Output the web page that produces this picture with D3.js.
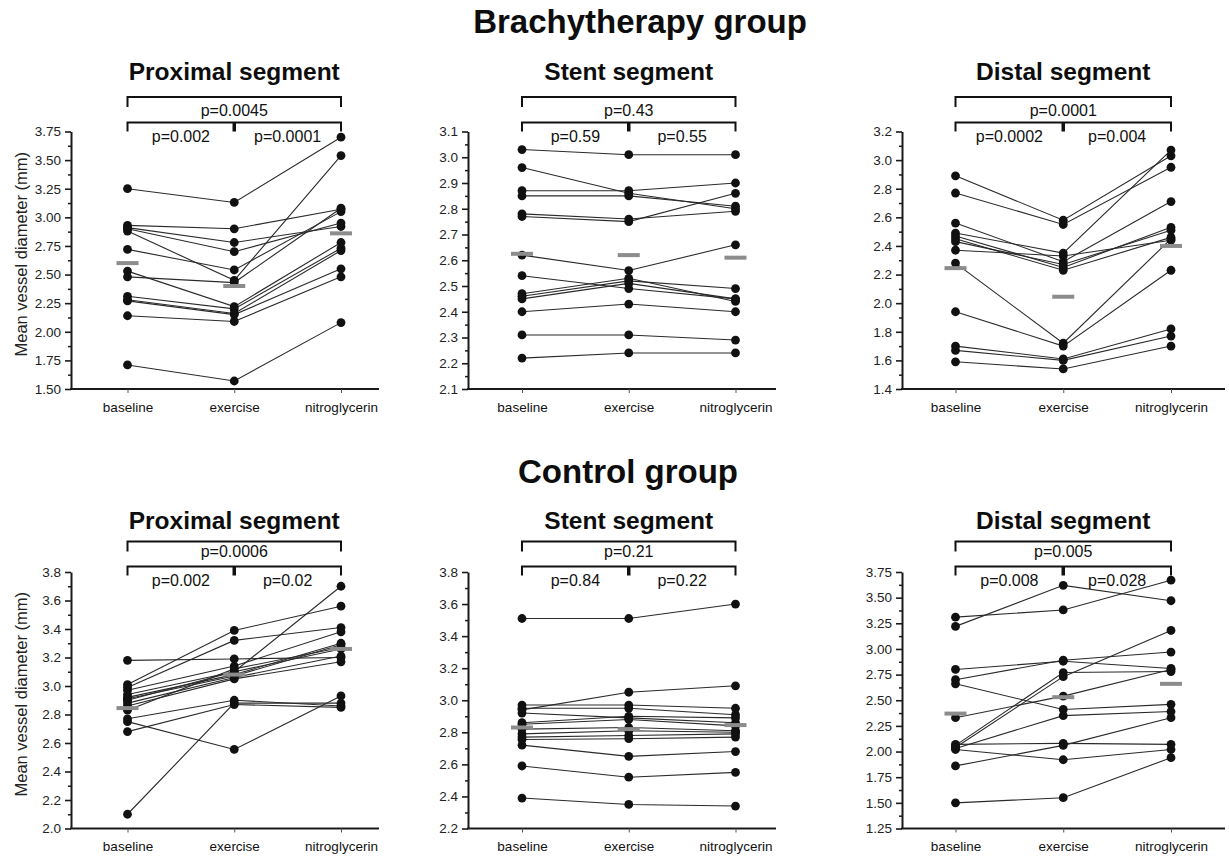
<!DOCTYPE html>
<html><head><meta charset="utf-8">
<script src="https://cdn.jsdelivr.net/npm/d3@7"></script>
<style>
body{margin:0;background:#fff}
svg{display:block;background:#fff}
text{font-family:"Liberation Sans",Arial,Helvetica,sans-serif}
</style>
</head><body>
<svg id="chart" width="1229" height="857"></svg>
<script>
// ---------------- DATA ----------------
const categories = ["baseline", "exercise", "nitroglycerin"];
const groupTitles = ["Brachytherapy group", "Control group"];
const segmentTitles = ["Proximal segment", "Stent segment", "Distal segment"];
const yAxisTitle = "Mean vessel diameter (mm)";

// each row: [baseline, exercise, nitroglycerin] for one patient
const brachyProximal = [
  [3.25, 3.13, 3.70], [2.93, 2.90, 3.07], [2.91, 2.78, 2.92], [2.90, 2.70, 2.95],
  [2.88, 2.45, 3.54], [2.72, 2.54, 3.05], [2.53, 2.22, 2.78], [2.48, 2.43, 3.08],
  [2.31, 2.20, 2.73], [2.28, 2.16, 2.71], [2.27, 2.15, 2.55], [2.14, 2.09, 2.48],
  [1.71, 1.57, 2.08]
];
const brachyStent = [
  [3.03, 3.01, 3.01], [2.96, 2.86, 2.80], [2.87, 2.87, 2.90], [2.85, 2.85, 2.81],
  [2.78, 2.76, 2.79], [2.77, 2.75, 2.86], [2.62, 2.56, 2.66], [2.54, 2.49, 2.45],
  [2.47, 2.53, 2.44], [2.46, 2.52, 2.49], [2.45, 2.51, 2.45], [2.40, 2.43, 2.40],
  [2.31, 2.31, 2.29], [2.22, 2.24, 2.24]
];
const brachyDistal = [
  [2.89, 2.58, 3.03], [2.77, 2.55, 2.95], [2.56, 2.29, 2.71], [2.49, 2.35, 3.07],
  [2.47, 2.25, 2.53], [2.45, 2.23, 2.46], [2.43, 2.27, 2.51], [2.37, 2.33, 2.44],
  [2.28, 1.72, 2.45], [1.94, 1.70, 2.23], [1.70, 1.61, 1.82], [1.67, 1.60, 1.77],
  [1.59, 1.54, 1.70]
];
const controlProximal = [
  [3.18, 3.19, 3.20], [3.01, 3.39, 3.56], [2.99, 3.32, 3.41], [2.97, 3.14, 3.38],
  [2.94, 3.10, 3.70], [2.92, 3.08, 3.30], [2.91, 3.07, 3.29], [2.90, 3.10, 3.26],
  [2.88, 3.06, 3.21], [2.86, 3.05, 3.17], [2.83, 3.12, 3.27], [2.77, 2.90, 2.86],
  [2.75, 2.555, 2.93], [2.68, 2.87, 2.85], [2.10, 2.88, 2.88]
];
const controlStent = [
  [3.51, 3.51, 3.60], [2.94, 3.05, 3.09], [2.97, 2.97, 2.95], [2.95, 2.95, 2.91],
  [2.92, 2.89, 2.86], [2.86, 2.90, 2.89], [2.85, 2.88, 2.84], [2.82, 2.83, 2.81],
  [2.79, 2.81, 2.80], [2.77, 2.78, 2.79], [2.755, 2.76, 2.77], [2.72, 2.65, 2.68],
  [2.59, 2.52, 2.55], [2.39, 2.35, 2.34]
];
const controlDistal = [
  [3.31, 3.38, 3.67], [3.22, 3.62, 3.47], [2.80, 2.88, 2.81], [2.70, 2.89, 2.97],
  [2.66, 2.41, 2.46], [2.33, 2.54, 2.80], [2.06, 2.77, 2.78], [2.04, 2.73, 3.18],
  [2.03, 2.35, 2.39], [2.02, 1.92, 2.02], [1.86, 2.06, 2.33], [2.07, 2.08, 2.07],
  [1.50, 1.55, 1.94]
];

// group means (grey bars)
const brachyProximalMeans = [2.60, 2.40, 2.86];
const brachyStentMeans = [2.625, 2.62, 2.61];
const brachyDistalMeans = [2.245, 2.045, 2.40];
const controlProximalMeans = [2.845, 3.08, 3.26];
const controlStentMeans = [2.83, 2.82, 2.845];
const controlDistalMeans = [2.37, 2.53, 2.66];

// p values: [baseline vs nitroglycerin, baseline vs exercise, exercise vs nitroglycerin]
const brachyProximalP = ["p=0.0045", "p=0.002", "p=0.0001"];
const brachyStentP = ["p=0.43", "p=0.59", "p=0.55"];
const brachyDistalP = ["p=0.0001", "p=0.0002", "p=0.004"];
const controlProximalP = ["p=0.0006", "p=0.002", "p=0.02"];
const controlStentP = ["p=0.21", "p=0.84", "p=0.22"];
const controlDistalP = ["p=0.005", "p=0.008", "p=0.028"];

// y tick labels
const brachyProximalTicks = ["1.50", "1.75", "2.00", "2.25", "2.50", "2.75", "3.00", "3.25", "3.50", "3.75"];
const brachyStentTicks = ["2.1", "2.2", "2.3", "2.4", "2.5", "2.6", "2.7", "2.8", "2.9", "3.0", "3.1"];
const brachyDistalTicks = ["1.4", "1.6", "1.8", "2.0", "2.2", "2.4", "2.6", "2.8", "3.0", "3.2"];
const controlProximalTicks = ["2.0", "2.2", "2.4", "2.6", "2.8", "3.0", "3.2", "3.4", "3.6", "3.8"];
const controlStentTicks = ["2.2", "2.4", "2.6", "2.8", "3.0", "3.2", "3.4", "3.6", "3.8"];
const controlDistalTicks = ["1.25", "1.50", "1.75", "2.00", "2.25", "2.50", "2.75", "3.00", "3.25", "3.50", "3.75"];

// ---------------- LAYOUT ----------------
const cols = [
  {axisX: 71, c0: 127.5, c2: 341, xEnd: 379},
  {axisX: 468, c0: 522, c2: 735.5, xEnd: 776},
  {axisX: 902, c0: 955.5, c2: 1171, xEnd: 1225}
];
const rows = [
  {top: 131.5, bottom: 389, title: 80, group: 33, groupX: 640, outer: 97, outerText: 115.5, inner: 122.5, innerText: 141.5, xlab: 411},
  {top: 572, bottom: 828.5, title: 529, group: 483, groupX: 628, outer: 541.5, outerText: 557, inner: 566.5, innerText: 586, xlab: 851}
];

const panels = [
  {r: 0, c: 0, data: brachyProximal, means: brachyProximalMeans, p: brachyProximalP, ticks: brachyProximalTicks},
  {r: 0, c: 1, data: brachyStent, means: brachyStentMeans, p: brachyStentP, ticks: brachyStentTicks},
  {r: 0, c: 2, data: brachyDistal, means: brachyDistalMeans, p: brachyDistalP, ticks: brachyDistalTicks},
  {r: 1, c: 0, data: controlProximal, means: controlProximalMeans, p: controlProximalP, ticks: controlProximalTicks},
  {r: 1, c: 1, data: controlStent, means: controlStentMeans, p: controlStentP, ticks: controlStentTicks},
  {r: 1, c: 2, data: controlDistal, means: controlDistalMeans, p: controlDistalP, ticks: controlDistalTicks}
];

const svg = d3.select("#chart");
const ink = "#1a1a1a";

rows.forEach((row, i) => {
  svg.append("text").attr("x", row.groupX).attr("y", row.group)
    .attr("text-anchor", "middle").attr("font-size", 33).attr("font-weight", "bold")
    .attr("fill", "#0d0d0d").text(groupTitles[i]);
});

panels.forEach(pn => {
  const col = cols[pn.c], row = rows[pn.r];
  const tickNums = pn.ticks.map(Number);
  const y = d3.scaleLinear().domain([tickNums[0], tickNums[tickNums.length - 1]]).range([row.bottom, row.top]);
  const x = d3.scalePoint().domain(categories).range([col.c0, col.c2]);
  const g = svg.append("g");

  // panel title
  g.append("text").attr("x", x("exercise")).attr("y", row.title)
    .attr("text-anchor", "middle").attr("font-size", 24.5).attr("font-weight", "bold")
    .attr("fill", "#0d0d0d").text(segmentTitles[pn.c]);

  // minor ticks (half steps)
  const minor = tickNums.slice(1).map((t, k) => (t + tickNums[k]) / 2);
  g.append("g").attr("transform", `translate(${col.axisX},0)`)
    .call(d3.axisLeft(y).tickValues(minor).tickSize(3).tickFormat(""))
    .call(a => a.select(".domain").remove())
    .call(a => a.selectAll("line").attr("stroke", ink).attr("stroke-width", 1.5));

  // major y axis
  const decimals = pn.ticks[0].split(".")[1].length;
  g.append("g").attr("transform", `translate(${col.axisX},0)`)
    .call(d3.axisLeft(y).tickValues(tickNums).tickSize(6).tickSizeOuter(0).tickPadding(4)
      .tickFormat(d3.format(`.${decimals}f`)))
    .call(a => a.select(".domain").attr("stroke", ink).attr("stroke-width", 2))
    .call(a => a.selectAll("line").attr("stroke", ink).attr("stroke-width", 1.6))
    .call(a => a.selectAll("text").attr("font-size", 13.5).attr("fill", "#222")
      .attr("font-family", '"Liberation Sans",Arial,sans-serif'));

  // x axis
  g.append("line").attr("x1", col.axisX - 1).attr("x2", col.xEnd)
    .attr("y1", row.bottom).attr("y2", row.bottom).attr("stroke", ink).attr("stroke-width", 2);
  g.append("g").attr("transform", `translate(0,${row.bottom})`)
    .call(d3.axisBottom(x).tickSize(4).tickPadding(9))
    .call(a => a.select(".domain").remove())
    .call(a => a.selectAll("line").attr("stroke", "#555").attr("stroke-width", 1))
    .call(a => a.selectAll("text").attr("font-size", 13.5).attr("fill", "#111")
      .attr("font-family", '"Liberation Sans",Arial,sans-serif'));

  // y-axis title in left column
  if (pn.c === 0) {
    g.append("text")
      .attr("transform", `translate(27,${(row.top + row.bottom) / 2 - 6}) rotate(-90)`)
      .attr("text-anchor", "middle").attr("font-size", 16.5).attr("fill", "#222")
      .text(yAxisTitle);
  }

  // patient lines
  const line = d3.line().x((d, k) => x(categories[k])).y(d => y(d));
  g.append("g").selectAll("path").data(pn.data).join("path")
    .attr("d", line).attr("fill", "none").attr("stroke", "#2a2a2a").attr("stroke-width", 1.1);

  // dots
  const pts = pn.data.flatMap(s => s.map((v, k) => ({k, v})));
  g.append("g").selectAll("circle").data(pts).join("circle")
    .attr("cx", d => x(categories[d.k])).attr("cy", d => y(d.v)).attr("r", 4.4).attr("fill", "#111");

  // mean bars
  g.append("g").selectAll("rect").data(pn.means).join("rect")
    .attr("x", (d, k) => x(categories[k]) - 11).attr("y", d => y(d) - 2)
    .attr("width", 22).attr("height", 4).attr("fill", "#8c8c8c");

  // significance brackets
  const xb = x("baseline"), xe = x("exercise"), xn = x("nitroglycerin");
  const br = g.append("g").attr("fill", "none").attr("stroke", "#111").attr("stroke-width", 2);
  br.append("path").attr("d", `M${xb},${row.outer + 10}V${row.outer}H${xn}V${row.outer + 10}`);
  br.append("path").attr("d", `M${xb},${row.inner + 9}V${row.inner}H${xn}V${row.inner + 9}`);
  br.append("path").attr("d", `M${xe},${row.inner}V${row.inner + 9}`).attr("stroke-width", 3.5);
  const pt = g.append("g").attr("font-size", 16).attr("fill", "#111").attr("text-anchor", "middle");
  pt.append("text").attr("x", xe).attr("y", row.outerText).text(pn.p[0]);
  pt.append("text").attr("x", (xb + xe) / 2).attr("y", row.innerText).text(pn.p[1]);
  pt.append("text").attr("x", (xe + xn) / 2).attr("y", row.innerText).text(pn.p[2]);
});
</script>
</body></html>
